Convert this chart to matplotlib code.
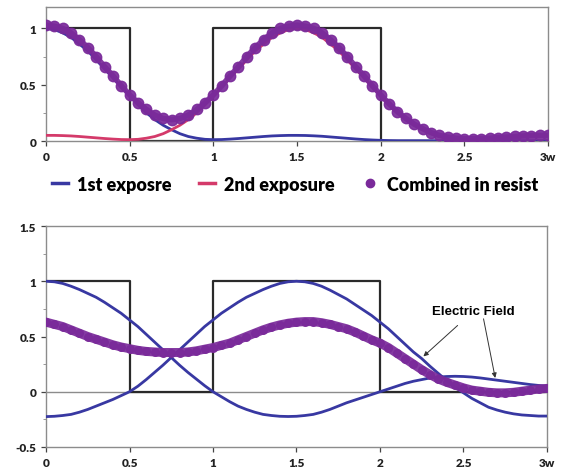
import numpy as np
import matplotlib
matplotlib.use('Agg')
import matplotlib.pyplot as plt
from matplotlib.lines import Line2D

# x positions (in units of w), 0.05 step
x = np.round(np.arange(61) * 0.05, 2)

# mask openings
mask_x = [0, 0.5, 0.5, 1, 1, 2, 2, 3]
mask_y = [1, 1, 0, 0, 1, 1, 0, 0]

# top panel: intensities
exp1 = [1.00, 0.99, 0.96, 0.92, 0.86, 0.80, 0.72, 0.64, 0.56, 0.48,
        0.40, 0.32, 0.25, 0.19, 0.14, 0.10, 0.065, 0.04, 0.025, 0.015,
        0.012, 0.013, 0.017, 0.022, 0.028, 0.034, 0.040, 0.045, 0.048, 0.050,
        0.050, 0.049, 0.046, 0.042, 0.036, 0.030, 0.024, 0.018, 0.013, 0.009,
        0.006, 0.004, 0.003, 0.003, 0.003, 0.003, 0.003, 0.003, 0.003, 0.003,
        0.003, 0.003, 0.003, 0.003, 0.003, 0.003, 0.003, 0.003, 0.003, 0.003,
        0.003]
exp2 = [0.050, 0.050, 0.048, 0.045, 0.040, 0.034, 0.028, 0.022, 0.017, 0.013,
        0.012, 0.015, 0.025, 0.040, 0.065, 0.10, 0.14, 0.19, 0.25, 0.32,
        0.40, 0.48, 0.56, 0.64, 0.72, 0.80, 0.86, 0.92, 0.96, 0.99,
        1.00, 0.99, 0.96, 0.92, 0.86, 0.80, 0.72, 0.64, 0.56, 0.48,
        0.40, 0.32, 0.25, 0.19, 0.14, 0.10, 0.065, 0.040, 0.025, 0.015,
        0.012, 0.013, 0.017, 0.022, 0.028, 0.034, 0.040, 0.045, 0.048, 0.050,
        0.050]
combined_top = [1.03, 1.02, 1.00, 0.96, 0.90, 0.83, 0.75, 0.66, 0.58, 0.49,
                0.41, 0.34, 0.28, 0.23, 0.20, 0.19, 0.20, 0.23, 0.28, 0.34,
                0.41, 0.49, 0.58, 0.66, 0.75, 0.83, 0.90, 0.96, 1.00, 1.02,
                1.03, 1.02, 1.00, 0.96, 0.90, 0.83, 0.75, 0.66, 0.58, 0.49,
                0.41, 0.33, 0.26, 0.20, 0.15, 0.11, 0.075, 0.05, 0.035, 0.025,
                0.02, 0.02, 0.022, 0.025, 0.03, 0.035, 0.04, 0.045, 0.048, 0.05,
                0.05]

# bottom panel: electric fields
field1 = [1.00, 0.995, 0.98, 0.955, 0.925, 0.89, 0.855, 0.81, 0.76, 0.71,
          0.65, 0.59, 0.52, 0.45, 0.38, 0.31, 0.24, 0.175, 0.115, 0.055,
          0.0, -0.045, -0.09, -0.13, -0.16, -0.185, -0.205, -0.215, -0.222, -0.224,
          -0.222, -0.215, -0.205, -0.185, -0.16, -0.13, -0.10, -0.075, -0.05, -0.025,
          0.0, 0.025, 0.05, 0.075, 0.095, 0.11, 0.125, 0.133, 0.138, 0.14,
          0.138, 0.133, 0.125, 0.115, 0.105, 0.095, 0.085, 0.075, 0.065, 0.057,
          0.05]
field2 = [-0.225, -0.222, -0.215, -0.205, -0.185, -0.16, -0.13, -0.10, -0.07, -0.035,
          0.0, 0.05, 0.11, 0.175, 0.24, 0.31, 0.38, 0.45, 0.52, 0.59,
          0.65, 0.71, 0.76, 0.81, 0.855, 0.89, 0.925, 0.955, 0.98, 0.995,
          1.00, 0.995, 0.98, 0.955, 0.92, 0.88, 0.84, 0.79, 0.74, 0.69,
          0.63, 0.57, 0.50, 0.43, 0.36, 0.30, 0.23, 0.165, 0.10, 0.04,
          -0.01, -0.06, -0.10, -0.14, -0.165, -0.185, -0.20, -0.21, -0.215, -0.22,
          -0.22]
combined_bot = [0.63, 0.61, 0.59, 0.56, 0.53, 0.50, 0.475, 0.45, 0.425, 0.405,
                0.39, 0.375, 0.365, 0.36, 0.355, 0.355, 0.355, 0.36, 0.37, 0.385,
                0.40, 0.42, 0.44, 0.47, 0.50, 0.53, 0.56, 0.585, 0.605, 0.62,
                0.63, 0.635, 0.635, 0.625, 0.61, 0.59, 0.57, 0.54, 0.505, 0.47,
                0.44, 0.40, 0.35, 0.30, 0.25, 0.20, 0.155, 0.115, 0.085, 0.06,
                0.035, 0.015, 0.005, -0.005, -0.01, -0.01, -0.005, 0.005, 0.015, 0.025,
                0.03]

xticks = [0, 0.5, 1, 1.5, 2, 2.5, 3]
xtick_labels = ['0', '0.5', '1', '1.5', '2', '2.5', '3w']

blue = '#3838a2'
red = '#d43a6a'
purple = '#7a2a9a'
grey = '#8c8c8c'

plt.rcParams['font.family'] = ['Lato', 'DejaVu Sans']
plt.rcParams['font.weight'] = 'heavy'

fig = plt.figure(figsize=(5.68, 4.77), dpi=100)
ax1 = fig.add_axes([0.081, 0.7023, 0.884, 0.2809])
ax2 = fig.add_axes([0.081, 0.0608, 0.882, 0.4633])


def style_axis(ax, ylim, yticks, ylabels):
    ax.set_xlim(0, 3)
    ax.set_ylim(*ylim)
    ax.set_xticks(xticks)
    ax.set_xticklabels(xtick_labels)
    ax.set_yticks(yticks)
    ax.set_yticklabels(ylabels)
    ax.set_yticks(np.arange(ylim[0], ylim[1] + 0.01, 0.25), minor=True)
    ax.tick_params(axis='both', labelsize=8.5, length=3.5, width=0.9, colors='#444444',
                   labelcolor='#222222')
    ax.tick_params(axis='y', which='minor', length=2, width=0.6, colors='#888888')
    ax.tick_params(axis='x', pad=4)
    for s in ax.spines.values():
        s.set_color(grey)
        s.set_linewidth(1.0)


# top panel
ax1.plot(mask_x, mask_y, color='#2a2a2a', lw=1.6, zorder=2)
ax1.plot(x, exp1, color=blue, lw=2.0, zorder=3)
ax1.plot(x, exp2, color=red, lw=2.0, zorder=3)
ax1.plot(x, combined_top, color=purple, lw=4, marker='o', ms=7.5,
         mec=purple, mfc=purple, alpha=0.92, zorder=4)
style_axis(ax1, (0, 1.19), [0, 0.5, 1], ['0', '0.5', '1'])

handles = [Line2D([], [], color=blue, lw=2.5),
           Line2D([], [], color=red, lw=2.5),
           Line2D([], [], color=purple, ls='none', marker='o', ms=6)]
fig.legend(handles, ['1st exposre', '2nd exposure', 'Combined in resist'],
           loc='center', bbox_to_anchor=(0.52, 0.612), ncol=3, frameon=False,
           handlelength=0.9, handletextpad=0.5, columnspacing=1.5,
           prop={'size': 13, 'weight': 'heavy'})

# bottom panel
ax2.axhline(0, color=grey, lw=1.0, zorder=1)
ax2.plot(mask_x, mask_y, color='#2a2a2a', lw=1.6, zorder=2)
ax2.plot(x, field1, color=blue, lw=2.0, zorder=3)
ax2.plot(x, field2, color=blue, lw=2.0, zorder=3)
ax2.plot(x, combined_bot, color=purple, lw=6.5, marker='o', ms=5.5,
         mec=purple, mfc=purple, alpha=0.92, zorder=4)
style_axis(ax2, (-0.5, 1.5), [-0.5, 0, 0.5, 1, 1.5], ['-0.5', '0', '0.5', '1', '1.5'])

arrow = dict(arrowstyle='-|>', color='#333333', lw=0.7, mutation_scale=7)
ax2.annotate('Electric Field', xy=(2.26, 0.32), xytext=(2.56, 0.73),
             ha='center', va='center', fontsize=9.5, fontweight='bold',
             family=['Liberation Sans', 'DejaVu Sans'],
             arrowprops=dict(arrow, shrinkA=6, shrinkB=0))
ax2.annotate('', xy=(2.69, 0.125), xytext=(2.62, 0.66),
             arrowprops=dict(arrow, shrinkA=0, shrinkB=0))

plt.savefig('out.png', dpi=100)
